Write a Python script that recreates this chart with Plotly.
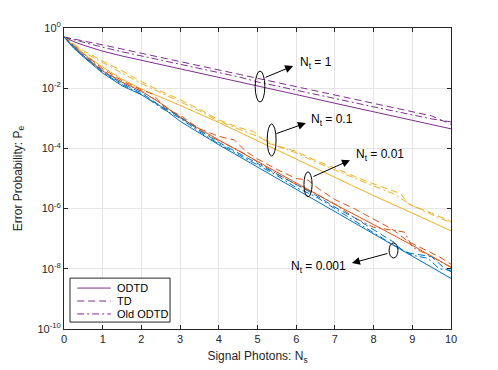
import numpy as np
import plotly.graph_objects as go

# values are log10(P_e)
x_odtd = [0, 0.25, 0.5, 1, 1.5, 2, 2.5, 3, 4, 5, 6, 7, 8, 9, 10]
odtd_nt1 = [-0.30, -0.45, -0.57, -0.77, -0.93, -1.07, -1.22, -1.36, -1.64, -1.93, -2.21, -2.50, -2.78, -3.07, -3.35]
odtd_nt01 = [-0.30, -0.60, -0.85, -1.30, -1.70, -2.03, -2.30, -2.57, -3.14, -3.75, -4.35, -4.98, -5.57, -6.15, -6.74]
odtd_nt001 = [-0.30, -0.65, -0.92, -1.43, -1.80, -2.10, -2.50, -2.98, -3.72, -4.44, -5.15, -5.86, -6.53, -7.22, -7.95]
odtd_nt0001 = [-0.30, -0.67, -0.96, -1.50, -1.92, -2.22, -2.60, -3.10, -3.88, -4.62, -5.38, -6.10, -6.85, -7.60, -8.32]

x_td_nt1 = [0, 0.5, 1, 1.5, 2, 3, 4, 4.5, 5, 6, 7, 7.5, 8, 9, 9.5, 10]
td_nt1 = [-0.30, -0.42, -0.56, -0.70, -0.84, -1.12, -1.40, -1.52, -1.68, -1.96, -2.22, -2.38, -2.52, -2.80, -2.92, -3.20]
x_old_nt1 = [0, 0.5, 1, 1.5, 2, 3, 4, 4.5, 5, 6, 7, 7.5, 8, 9, 9.5, 10]
old_nt1 = [-0.30, -0.48, -0.64, -0.79, -0.93, -1.22, -1.50, -1.62, -1.79, -2.06, -2.32, -2.48, -2.62, -2.90, -3.02, -3.12]

x_td_nt01 = [0, 0.5, 1, 1.5, 2, 2.5, 3, 3.5, 4, 4.5, 4.9, 5.25, 6, 6.5, 7, 7.5, 8, 8.5, 8.7, 8.9, 9.5, 10]
td_nt01 = [-0.30, -0.75, -1.10, -1.42, -1.78, -2.10, -2.38, -2.70, -3.05, -3.30, -3.44, -3.82, -4.10, -4.40, -4.65, -4.93, -5.18, -5.42, -5.50, -5.85, -6.15, -6.43]
x_old_nt01 = [0, 0.5, 1, 1.5, 2, 2.5, 3, 3.5, 4, 4.5, 5, 5.5, 6, 6.5, 7, 7.5, 8, 8.5, 9, 9.5, 10]
old_nt01 = [-0.30, -0.80, -1.15, -1.50, -1.85, -2.15, -2.45, -2.75, -3.10, -3.35, -3.60, -3.92, -4.15, -4.45, -4.72, -4.98, -5.25, -5.50, -5.90, -6.20, -6.47]

x_td_nt001 = [0, 0.5, 1, 1.5, 2, 2.3, 2.6, 3, 3.5, 4, 4.4, 4.7, 5, 5.5, 6, 6.3, 6.6, 7, 7.5, 8, 8.5, 8.9, 9.3, 9.7, 10]
td_nt001 = [-0.30, -0.85, -1.35, -1.75, -2.05, -2.20, -2.65, -2.90, -3.35, -3.60, -3.72, -4.10, -4.35, -4.70, -5.00, -5.05, -5.36, -5.70, -6.00, -6.35, -6.70, -7.10, -7.35, -7.60, -7.85]
x_old_nt001 = [0, 0.5, 1, 1.5, 2, 2.5, 3, 3.5, 4, 4.5, 5, 5.5, 6, 6.5, 7, 7.5, 8, 8.4, 8.8, 9, 9.5, 10]
old_nt001 = [-0.30, -0.88, -1.40, -1.80, -2.10, -2.50, -2.95, -3.40, -3.75, -4.05, -4.45, -4.85, -5.20, -5.50, -5.85, -6.30, -6.62, -6.70, -6.78, -7.28, -7.60, -7.95]

x_td_nt0001 = [0, 0.5, 1, 1.5, 2, 2.5, 3, 3.5, 4, 4.5, 5, 5.5, 6, 6.5, 7, 7.5, 8, 8.5, 8.8, 9.5, 9.8, 10]
td_nt0001 = [-0.30, -0.92, -1.45, -1.85, -2.15, -2.60, -2.95, -3.40, -3.80, -4.15, -4.50, -4.85, -5.20, -5.55, -5.95, -6.30, -6.70, -7.10, -7.45, -7.60, -7.95, -8.10]
x_old_nt0001 = [0, 0.5, 1, 1.5, 2, 2.5, 3, 3.5, 4, 4.5, 5, 5.5, 6, 6.5, 7, 7.5, 8, 8.5, 9, 9.4, 9.7, 10]
old_nt0001 = [-0.30, -0.93, -1.48, -1.88, -2.20, -2.65, -3.00, -3.45, -3.85, -4.20, -4.55, -4.90, -5.30, -5.60, -6.00, -6.40, -6.80, -7.20, -7.55, -7.65, -8.00, -8.05]

legend_names = ["ODTD", "TD", "Old ODTD"]
y_tickvals = [1e0, 1e-2, 1e-4, 1e-6, 1e-8, 1e-10]
y_ticktext = ["10<sup>0</sup>", "10<sup>-2</sup>", "10<sup>-4</sup>",
              "10<sup>-6</sup>", "10<sup>-8</sup>", "10<sup>-10</sup>"]

PURPLE = "#7E2F8E"
YELLOW = "#EDB120"
RED = "#D95319"
BLUE = "#0072BD"
DASH = "7px,4px"
DASHDOT = "7px,3px,2px,3px"
STYLES = ["solid", DASH, DASHDOT]
FONT = "Liberation Sans, Arial, sans-serif"
AXC = "#262626"

groups = [
    (PURPLE, x_odtd, odtd_nt1, x_td_nt1, td_nt1, x_old_nt1, old_nt1),
    (YELLOW, x_odtd, odtd_nt01, x_td_nt01, td_nt01, x_old_nt01, old_nt01),
    (RED, x_odtd, odtd_nt001, x_td_nt001, td_nt001, x_old_nt001, old_nt001),
    (BLUE, x_odtd, odtd_nt0001, x_td_nt0001, td_nt0001, x_old_nt0001, old_nt0001),
]

fig = go.Figure()
for color, xs, ys, xd, yd, xo, yo in groups:
    for (xx, yy), dash, name in zip([(xs, ys), (xd, yd), (xo, yo)],
                                    STYLES, legend_names):
        fig.add_trace(go.Scatter(
            x=xx, y=np.power(10.0, yy), mode="lines", name=name,
            line=dict(color=color, width=1, dash=dash),
            showlegend=False))

# ellipses grouping each N_t family (x in data units, y in paper units)
ellipses = [(4.94, 5.19, 0.754, 0.857), (5.25, 5.48, 0.575, 0.681),
            (6.20, 6.41, 0.439, 0.522), (8.40, 8.63, 0.236, 0.286)]
for x0, x1, y0, y1 in ellipses:
    fig.add_shape(type="circle", xref="x", yref="paper", x0=x0, x1=x1,
                  y0=y0, y1=y1, line=dict(color="black", width=1))

# arrows: head position (x data, y log10) and tail offset in pixels
arrows = [(5.92, -1.26, -29, 12), (6.25, -3.16, -31, 11),
          (7.39, -4.39, -38, 17), (7.44, -7.81, 37, -10)]
for hx, hy, ax, ay in arrows:
    fig.add_annotation(x=hx, y=hy, ax=ax, ay=ay, text="", showarrow=True,
                       arrowhead=2, arrowsize=1.6, arrowwidth=1,
                       arrowcolor="black", standoff=0, startstandoff=0)

labels = [("N<sub>t</sub> = 1", 6.05, -1.16, "left"),
          ("N<sub>t</sub> = 0.1", 6.33, -3.06, "left"),
          ("N<sub>t</sub> = 0.01", 7.49, -4.22, "left"),
          ("N<sub>t</sub> = 0.001", 7.33, -7.94, "right")]
for txt, lx, ly, anchor in labels:
    fig.add_annotation(x=lx, y=ly, text=txt, showarrow=False,
                       xanchor=anchor, yanchor="middle",
                       font=dict(size=12, color="black", family=FONT))

# legend box drawn by hand (MATLAB style, compact rows)
fig.add_shape(type="rect", xref="paper", yref="paper", x0=0.0155, x1=0.274,
              y0=0.023, y1=0.169, fillcolor="white",
              line=dict(color=AXC, width=1), layer="above")
legend_rows = [0.136, 0.093, 0.050]
for row_y, dash, name in zip(legend_rows, STYLES, legend_names):
    fig.add_shape(type="line", xref="paper", yref="paper", x0=0.034,
                  x1=0.121, y0=row_y, y1=row_y, layer="above",
                  line=dict(color=PURPLE, width=1, dash=dash))
    fig.add_annotation(xref="paper", yref="paper", x=0.132, y=row_y,
                       text=name, showarrow=False, xanchor="left",
                       yanchor="middle",
                       font=dict(size=11, color="black", family=FONT))

axis_common = dict(
    showline=True, linecolor=AXC, linewidth=1, mirror="ticks",
    ticks="inside", ticklen=4, tickcolor=AXC, automargin=False,
    showgrid=True, gridcolor="#e5e5e5", gridwidth=1, zeroline=False,
    tickfont=dict(size=11, color=AXC, family=FONT),
)

fig.update_xaxes(range=[0, 10], tickvals=list(range(11)),
                 title=dict(text="Signal Photons: N<sub>s</sub>", standoff=7,
                            font=dict(size=12, color=AXC, family=FONT)),
                 **axis_common)
fig.update_yaxes(type="log", range=[-10, 0], tickvals=y_tickvals,
                 ticktext=y_ticktext,
                 title=dict(text="Error Probability: P<sub>e</sub>", standoff=12,
                            font=dict(size=12, color=AXC, family=FONT)),
                 **axis_common)

# page body keeps an 8px margin, so the figure is 8px smaller and shifted
fig.update_layout(
    width=490, height=362,
    margin=dict(l=56, r=47, t=20, b=41),
    paper_bgcolor="white", plot_bgcolor="white",
    font=dict(family=FONT, color=AXC),
    showlegend=False,
)

fig.write_html("out.html")
